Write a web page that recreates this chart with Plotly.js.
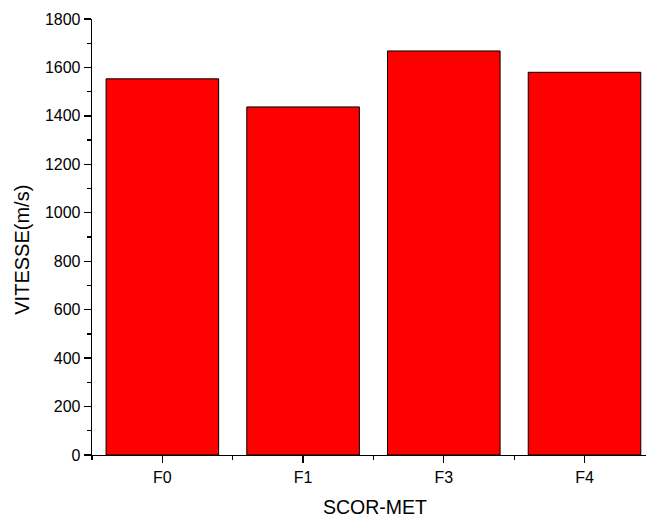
<!DOCTYPE html>
<html>
<head>
<meta charset="utf-8">
<script src="https://cdn.plot.ly/plotly-3.0.1.min.js"></script>
<style>html,body{margin:0;padding:0;background:#fff;}#chart{width:646px;height:517px;}</style>
</head>
<body>
<div id="chart"></div>
<script>
const categories = ["F0", "F1", "F3", "F4"];
const vitesse = [1553, 1437, 1668, 1580];
const xTitle = "SCOR-MET";
const yTitle = "VITESSE(m/s)";
const positions = categories.map((c, i) => i);

const trace = {
  type: "bar",
  x: positions,
  y: vitesse,
  width: 0.8,
  marker: { color: "#ff0000", line: { color: "#000000", width: 1 } },
  hoverinfo: "y"
};

const layout = {
  width: 646,
  height: 517,
  margin: { l: 92, r: 0, t: 19, b: 62 },
  paper_bgcolor: "#ffffff",
  plot_bgcolor: "#ffffff",
  showlegend: false,
  font: { family: "Liberation Sans, Arial, sans-serif", color: "#000000", size: 16 },
  xaxis: {
    range: [-0.5, 3.437],
    tickmode: "array",
    tickvals: positions,
    ticktext: categories,
    showgrid: false,
    zeroline: false,
    showline: true,
    linecolor: "#000",
    linewidth: 1.3,
    ticks: "outside",
    ticklen: 7,
    tickwidth: 1.3,
    tickcolor: "#000",
    tickfont: { size: 16 },
    minor: { tickmode: "linear", tick0: -0.5, dtick: 1, ticks: "outside", ticklen: 4, tickwidth: 1.3, tickcolor: "#000", showgrid: false }
  },
  yaxis: {
    range: [0, 1800],
    dtick: 200,
    showgrid: false,
    zeroline: false,
    showline: true,
    linecolor: "#000",
    linewidth: 1.3,
    ticks: "outside",
    ticklen: 7,
    tickwidth: 1.3,
    tickcolor: "#000",
    tickfont: { size: 16 },
    minor: { dtick: 100, ticks: "outside", ticklen: 4, tickwidth: 1.3, tickcolor: "#000", showgrid: false }
  },
  annotations: [
    {
      text: yTitle, textangle: -90, showarrow: false,
      xref: "paper", yref: "paper", x: -0.127, y: 0.47,
      xanchor: "center", yanchor: "middle",
      font: { size: 20, color: "#000" }
    },
    {
      text: xTitle, showarrow: false,
      xref: "paper", yref: "paper", x: 0.5108, y: -0.1193,
      xanchor: "center", yanchor: "middle",
      font: { size: 19.5, color: "#000" }
    }
  ]
};

Plotly.newPlot("chart", [trace], layout, { displayModeBar: false, staticPlot: true });
</script>
</body>
</html>
